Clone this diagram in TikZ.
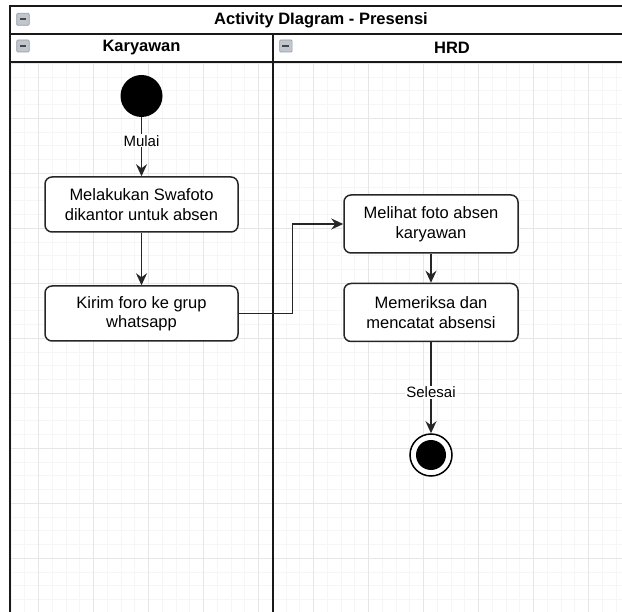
\documentclass[tikz,border=0pt]{standalone}
\usepackage{fontspec}
\setmainfont{Liberation Sans}
\usetikzlibrary{arrows.meta}
\newcommand\actfont{\fontsize{16.5}{19.5}\selectfont}
\newcommand\lblfont{\fontsize{15}{18}\selectfont}
\definecolor{gridminor}{RGB}{246,246,246}
\definecolor{gridmajor}{RGB}{230,230,230}
\definecolor{iconfill}{RGB}{192,197,206}
\definecolor{iconedge}{RGB}{150,155,165}
\definecolor{iconbar}{RGB}{70,70,70}
\begin{document}
\begin{tikzpicture}[x=1pt,y=-1pt,
  act/.style={draw=black!85, line width=1.5pt, rounded corners=7pt, fill=white,
    minimum width=193pt, minimum height=55pt, align=center, inner sep=0pt, font=\actfont},
  acthrd/.style={act, minimum width=174pt, minimum height=58pt},
  lbl/.style={fill=white, inner sep=1pt, font=\lblfont},
  conn/.style={line width=1.5pt, draw=black!85, -{Stealth[length=12pt,width=11pt,inset=4pt]}},
  lane/.style={line width=2pt, draw=black!90},
  minor/.style={draw=gridminor, line width=1pt},
  major/.style={draw=gridmajor, line width=1pt},
  hdr/.style={font=\actfont\bfseries, inner sep=0pt},
  icon/.pic={
    \draw[draw=iconedge, fill=iconfill, line width=0.6pt, rounded corners=1pt] (0,0) rectangle (12.5,12);
    \draw[iconbar, line width=2pt] (2.8,6) -- (9.7,6);
  }]
\useasboundingbox (0,0) rectangle (622,612);
\fill[white] (0,0) rectangle (622,612);
% grid
\begin{scope}
  \clip (10,62) rectangle (622,612);
  \foreach \k in {-3,...,45} {
    \draw[minor] (38.7+13.75*\k,62) -- (38.7+13.75*\k,612);
  }
  \foreach \k in {-1,...,42} {
    \draw[minor] (10,63.3+13.75*\k) -- (622,63.3+13.75*\k);
  }
  \foreach \k in {-1,...,11} {
    \draw[major] (38.7+55*\k,62) -- (38.7+55*\k,612);
  }
  \foreach \k in {0,...,10} {
    \draw[major] (10,63.3+55*\k) -- (622,63.3+55*\k);
  }
\end{scope}
% pool and lanes
\draw[lane] (10,640) -- (10,6.3) -- (640,6.3);
\draw[lane] (10,34) -- (640,34);
\draw[lane] (10,62) -- (640,62);
\draw[lane] (273.3,34) -- (273.3,640);
\pic at (16.7,13.3) {icon};
\pic at (16.7,40) {icon};
\pic at (279.6,40) {icon};
\node[hdr] (title) at (321,20.5) {Activity DIagram - Presensi};
\node[hdr] (lk) at (141.5,48) {Karyawan};
\node[hdr] (lh) at (452,48) {HRD};
% nodes
\node[circle, fill=black, minimum size=42pt, inner sep=0pt] (start) at (141.5,96) {};
\node[act] (a1) at (141.5,204.5) {Melakukan Swafoto\\dikantor untuk absen};
\node[act] (a2) at (141.5,313.5) {Kirim foro ke grup\\whatsapp};
\node[acthrd] (a3) at (431,224) {Melihat foto absen\\karyawan};
\node[acthrd] (a4) at (431,312.5) {Memeriksa dan\\mencatat absensi};
\node[circle, draw=black, line width=1.5pt, fill=white, minimum size=42pt, inner sep=0pt] (end) at (431,455) {};
\node[circle, fill=black, minimum size=30pt, inner sep=0pt] (endin) at (end) {};
% connectors
\draw[conn] (start) -- node[lbl, pos=0.4] {Mulai} (a1);
\draw[conn] (a1) -- (a2);
\draw[conn] (a2.east) -- ++(53.5,0) |- (a3.west);
\draw[conn] (a3) -- (a4);
\draw[conn] (a4) -- node[lbl, pos=0.55] {Selesai} (end);
\end{tikzpicture}
\end{document}
